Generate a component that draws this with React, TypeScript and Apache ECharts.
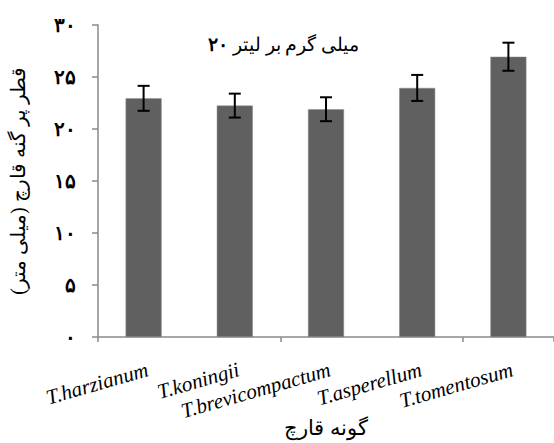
import React, { useEffect, useRef } from "react";
import * as echarts from "echarts";

const categories = ["T.harzianum", "T.koningii", "T.brevicompactum", "T.asperellum", "T.tomentosum"];
const means = [22.95, 22.25, 21.9, 23.95, 26.95];
const errors = [1.2, 1.15, 1.15, 1.25, 1.35];
const yTickLabels = ["۰", "۵", "۱۰", "۱۵", "۲۰", "۲۵", "۳۰"];
const titleNumber = "۲۰";
const titleUnit = "میلی گرم بر لیتر";
const yAxisName = "قطر پر گنه قارچ (میلی متر)";
const xAxisName = "گونه قارچ";

const SERIF = "Liberation Serif";

export default function App() {
  const ref = useRef<HTMLDivElement>(null);
  useEffect(() => {
    if (!ref.current) return;
    const chart = echarts.init(ref.current, null, { renderer: "svg" });
    const errData = means.map((m, i) => [i, m - errors[i], m + errors[i]]);
    const labelData = categories.map((c, i) => [i, 0]);
    chart.setOption({
      animation: false,
      backgroundColor: "#ffffff",
      title: {
        text: "{n|" + titleNumber + "} {t|" + titleUnit + "}",
        left: 203,
        top: 30,
        textStyle: {
          fontFamily: SERIF,
          fontSize: 19,
          fontWeight: "normal",
          color: "#000",
          rich: {
            n: { fontFamily: SERIF, fontSize: 19, fontWeight: "bold", color: "#000" },
            t: { fontFamily: SERIF, fontSize: 19, fontWeight: "normal", color: "#000" },
          },
        },
      },
      grid: { left: 97, top: 25, width: 458, bottom: 106, containLabel: false },
      xAxis: {
        type: "category",
        data: categories,
        name: xAxisName,
        nameLocation: "middle",
        nameGap: 80,
        nameTextStyle: { fontFamily: SERIF, fontSize: 21, color: "#000" },
        axisLine: { lineStyle: { color: "#8a8a8a", width: 1.5 } },
        axisTick: { show: true, length: 5, alignWithLabel: false, lineStyle: { color: "#8a8a8a", width: 1.5 } },
        axisLabel: { show: false },
      },
      yAxis: {
        type: "value",
        min: 0,
        max: 30,
        interval: 5,
        name: yAxisName,
        nameLocation: "middle",
        nameGap: 70,
        nameRotate: 90,
        nameTextStyle: { fontFamily: SERIF, fontSize: 20, color: "#000" },
        splitLine: { show: false },
        axisLine: { show: true, lineStyle: { color: "#8a8a8a", width: 1.5 } },
        axisTick: { show: true, length: 6, lineStyle: { color: "#8a8a8a", width: 1.5 } },
        axisLabel: {
          margin: 22,
          fontFamily: SERIF,
          fontSize: 20,
          fontWeight: "bold",
          color: "#000",
          formatter: (v: number) => yTickLabels[Math.round(v / 5)] ?? String(v),
        },
      },
      series: [
        {
          type: "bar",
          data: means,
          barWidth: 36,
          itemStyle: { color: "#606060", borderColor: "#8c8c8c", borderWidth: 0.5 },
        },
        {
          type: "custom",
          data: errData,
          z: 10,
          renderItem: (params: any, api: any) => {
            const x = api.value(0);
            const lo = api.coord([x, api.value(1)]);
            const hi = api.coord([x, api.value(2)]);
            const hw = 6;
            const style = { stroke: "#000", lineWidth: 2 };
            return {
              type: "group",
              children: [
                { type: "line", shape: { x1: lo[0], y1: lo[1], x2: hi[0], y2: hi[1] }, style },
                { type: "line", shape: { x1: lo[0] - hw, y1: lo[1], x2: lo[0] + hw, y2: lo[1] }, style },
                { type: "line", shape: { x1: hi[0] - hw, y1: hi[1], x2: hi[0] + hw, y2: hi[1] }, style },
              ],
            };
          },
        },
        {
          type: "custom",
          data: labelData,
          clip: false,
          silent: true,
          z: 10,
          renderItem: (params: any, api: any) => {
            const i = api.value(0);
            const p = api.coord([i, 0]);
            return {
              type: "text",
              x: p[0] + 4,
              y: p[1] + 32,
              rotation: (16 * Math.PI) / 180,
              style: {
                text: categories[i],
                fontFamily: SERIF,
                fontStyle: "italic",
                fontSize: 21,
                fill: "#000",
                align: "right",
                verticalAlign: "middle",
              },
            };
          },
        },
      ],
    });
    return () => chart.dispose();
  }, []);
  return <div ref={ref} style={{ position: "fixed", left: 0, top: 0, width: 554, height: 443 }} />;
}
